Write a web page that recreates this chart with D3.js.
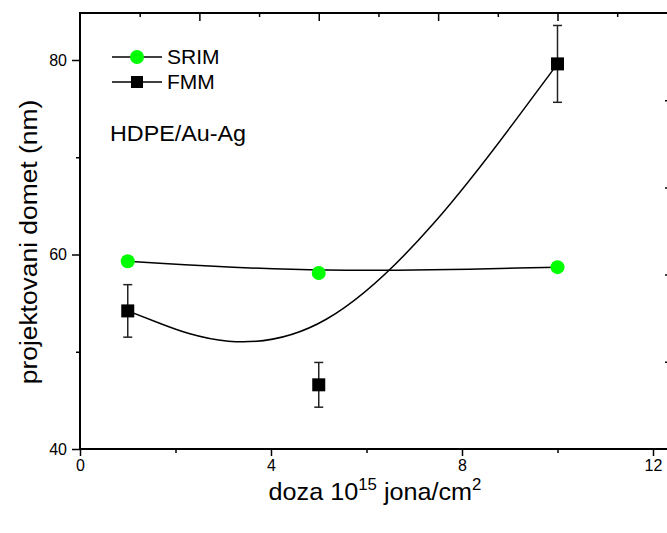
<!DOCTYPE html>
<html><head><meta charset="utf-8">
<script src="https://cdn.jsdelivr.net/npm/d3@7"></script>
<style>
html,body{margin:0;padding:0;background:#fff;}
svg{display:block;font-family:"Liberation Sans",Arial,sans-serif;}
</style></head>
<body><svg id="c" width="667" height="533"></svg>
<script>
// ---- data ----
const doses = [1, 5, 10];
const srimValues = [59.3, 58.1, 58.7];
const fmmValues = [54.2, 46.6, 79.6];
const fmmErrors = [2.7, 2.3, 3.95];
const xTickLabels = [0, 4, 8, 12];
const yTickLabels = [40, 60, 80];
const seriesNames = ["SRIM", "FMM"];
const annotation = "HDPE/Au-Ag";

const svg = d3.select("#c");
const L = 80, R = 669, T = 13, B = 449;
const x = d3.scaleLinear().domain([0, 12]).range([L, 653]);
const y = d3.scaleLinear().domain([40, 80]).range([B, 60]);

// curves
const line = d3.line().x(d => x(d[0])).y(d => y(d[1])).curve(d3.curveBasis);
svg.append("path").datum(doses.map((d, i) => [d, srimValues[i]]))
  .attr("d", line).attr("fill", "none").attr("stroke", "#000").attr("stroke-width", 1.5);
svg.append("path").datum(doses.map((d, i) => [d, fmmValues[i]]))
  .attr("d", line).attr("fill", "none").attr("stroke", "#000").attr("stroke-width", 1.5);

// error bars
const eb = svg.append("g").attr("stroke", "#222").attr("stroke-width", 1.5);
doses.forEach((d, i) => {
  const cx = x(d), y1 = y(fmmValues[i] + fmmErrors[i]), y0 = y(fmmValues[i] - fmmErrors[i]);
  eb.append("line").attr("x1", cx).attr("x2", cx).attr("y1", y1).attr("y2", y0);
  eb.append("line").attr("x1", cx - 4.5).attr("x2", cx + 4.5).attr("y1", y1).attr("y2", y1);
  eb.append("line").attr("x1", cx - 4.5).attr("x2", cx + 4.5).attr("y1", y0).attr("y2", y0);
});

// markers
svg.append("g").selectAll("circle").data(doses).join("circle")
  .attr("cx", d => x(d)).attr("cy", (d, i) => y(srimValues[i])).attr("r", 7).attr("fill", "#00ff00");
svg.append("g").selectAll("rect").data(doses).join("rect")
  .attr("x", d => x(d) - 6.5).attr("y", (d, i) => y(fmmValues[i]) - 6.5)
  .attr("width", 13).attr("height", 13).attr("fill", "#000");

// axes
const axStyle = g => {
  g.attr("font-size", null).attr("font-family", null);
  g.select(".domain").remove();
  g.selectAll("text").style("font-family", "'Liberation Sans', Arial, sans-serif").style("font-size", "16px").attr("fill", "#000");
  g.selectAll("line").attr("stroke", "#000").attr("stroke-width", 1.5);
};
// bottom
svg.append("g").attr("transform", `translate(0,${B})`)
  .call(d3.axisBottom(x).tickValues(xTickLabels).tickSize(7).tickPadding(4).tickFormat(d3.format("d"))).call(axStyle);
svg.append("g").attr("transform", `translate(0,${B})`)
  .call(d3.axisBottom(x).tickValues([2, 6, 10]).tickSize(4).tickFormat("")).call(axStyle);
// left
svg.append("g").attr("transform", `translate(${L},0)`)
  .call(d3.axisLeft(y).tickValues(yTickLabels).tickSize(8).tickPadding(5).tickFormat(d3.format("d"))).call(axStyle);
svg.append("g").attr("transform", `translate(${L},0)`)
  .call(d3.axisLeft(y).tickValues([50, 70]).tickSize(4).tickFormat("")).call(axStyle);
// top (inward)
svg.append("g").attr("transform", `translate(0,${T})`)
  .call(d3.axisBottom(x).tickValues([2.5, 5, 7.5, 10]).tickSize(8).tickFormat("")).call(axStyle);
svg.append("g").attr("transform", `translate(0,${T})`)
  .call(d3.axisBottom(x).tickValues([1.25, 3.75, 6.25, 8.75, 11.25]).tickSize(4).tickFormat("")).call(axStyle);
// right (inward)
const yr = d3.scaleLinear().domain([0, 5]).range([B, T]);
svg.append("g").attr("transform", `translate(${R},0)`)
  .call(d3.axisLeft(yr).tickValues([1, 2, 3, 4]).tickSize(4).tickFormat("")).call(axStyle);

// frame
svg.append("rect").attr("x", L).attr("y", T).attr("width", R - L).attr("height", B - T)
  .attr("fill", "none").attr("stroke", "#000").attr("stroke-width", 2);

// legend
const lg = svg.append("g");
[[57, 0], [82, 1]].forEach(([ly, k]) => {
  lg.append("line").attr("x1", 112).attr("x2", 162).attr("y1", ly).attr("y2", ly).attr("stroke", "#000").attr("stroke-width", 1.5);
  if (k === 0) lg.append("circle").attr("cx", 137).attr("cy", ly).attr("r", 7).attr("fill", "#00ff00");
  else lg.append("rect").attr("x", 131).attr("y", ly - 6).attr("width", 12).attr("height", 12).attr("fill", "#000");
  lg.append("text").attr("x", 167).attr("y", ly + 7).attr("font-size", 21).text(seriesNames[k]);
});
svg.append("text").attr("x", 110).attr("y", 141).attr("font-size", 22)
  .attr("transform", "translate(110,0) scale(1.06,1) translate(-110,0)").text(annotation);

// axis titles
svg.append("text").attr("transform", "translate(37,242) rotate(-90) scale(1.1,1)").attr("text-anchor", "middle")
  .attr("font-size", 24).text("projektovani domet (nm)");
const xt = svg.append("text").attr("transform", "translate(375,500) scale(1.05,1)").attr("text-anchor", "middle").attr("font-size", 24);
xt.append("tspan").text("doza 10");
xt.append("tspan").attr("dy", -10).attr("font-size", 16).text("15");
xt.append("tspan").attr("dy", 10).text(" jona/cm");
xt.append("tspan").attr("dy", -10).attr("font-size", 16).text("2");
</script></body></html>
